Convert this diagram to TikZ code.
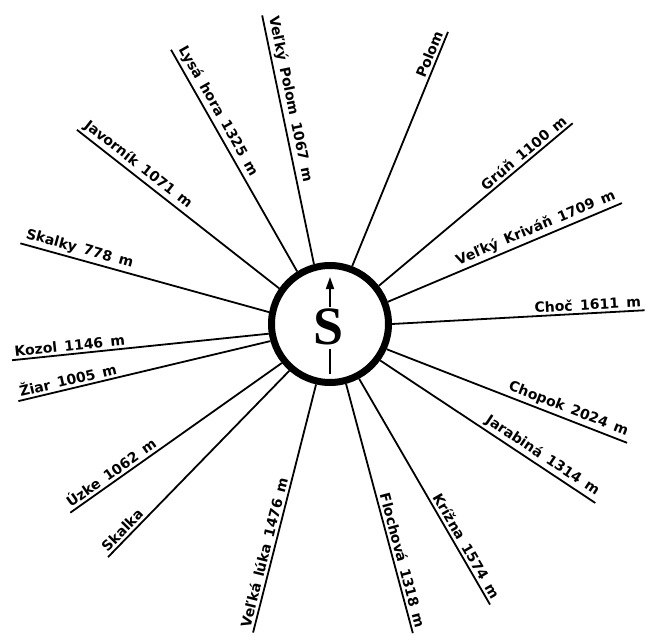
\documentclass[tikz,border=0pt]{standalone}
\usepackage{fontspec}
\usetikzlibrary{arrows.meta,calc}
\newfontfamily\peakfont[WordSpace=1.5]{DejaVu Sans}
\newfontfamily\hubfont{Liberation Serif}
\tikzset{
  hub/.style={circle, draw, line width=7pt, minimum size=117pt, inner sep=0pt},
  ray/.style={line width=1.8pt},
  plab/.style={font=\peakfont\bfseries\fontsize{14}{16}\selectfont, inner sep=2.5pt},
  nar/.style={-{Triangle[length=12pt,width=8pt]}, line width=1.8pt},
}

\begin{document}
\begin{tikzpicture}[x=1pt,y=1pt]
  \useasboundingbox (-330,-311) rectangle (315,324);
  \node[hub] (c) at (0,0) {};
  \node[font=\hubfont\bfseries\fontsize{54}{54}\selectfont] (s) at (-1,-3) {S};
  \draw[nar] (0,17) -- (0,47);
  \draw[line width=1.8pt] (0,-25) -- (0,-50);
  % peaks west of the meridian: text runs inward
  \foreach \a/\b/\r/\txt [count=\i] in {
      105/102.4/316/Veľký Polom 1067 m,
      122/120.1/317/Lysá hora 1325 m,
      145/142.5/319/Javorník 1071 m,
      169/165.4/320/Skalky 778 m,
      189/186.5/320/Kozol 1146 m,
      196/193.9/321/Žiar 1005 m,
      219/216/321/Úzke 1062 m,
      229/226.4/322/Skalka,
      257/256/318/Veľká lúka 1476 m}{
    \coordinate (w\i) at (\b:\r);
    \draw[ray] (w\i) -- (c.\a)
      node[plab, pos=0, sloped, anchor=south west] (wl\i) {\txt};
  }
  % peaks east of the meridian: text runs outward
  \foreach \a/\b/\r/\txt [count=\i] in {
      285/285/320/Flochová 1318 m,
      298/299.7/323/Krížna 1574 m,
      324/326/320/Jarabiná 1314 m,
      336/338.2/320/Chopok 2024 m,
      0/2.5/315/Choč 1611 m,
      21/22.5/316/Veľký Kriváň 1709 m,
      38/39.6/315/Grúň 1100 m,
      69/68/315/Polom}{
    \coordinate (e\i) at (\b:\r);
    \draw[ray] (c.\a) -- (e\i)
      node[plab, pos=1, sloped, anchor=south east] (el\i) {\txt};
  }
\end{tikzpicture}
\end{document}
